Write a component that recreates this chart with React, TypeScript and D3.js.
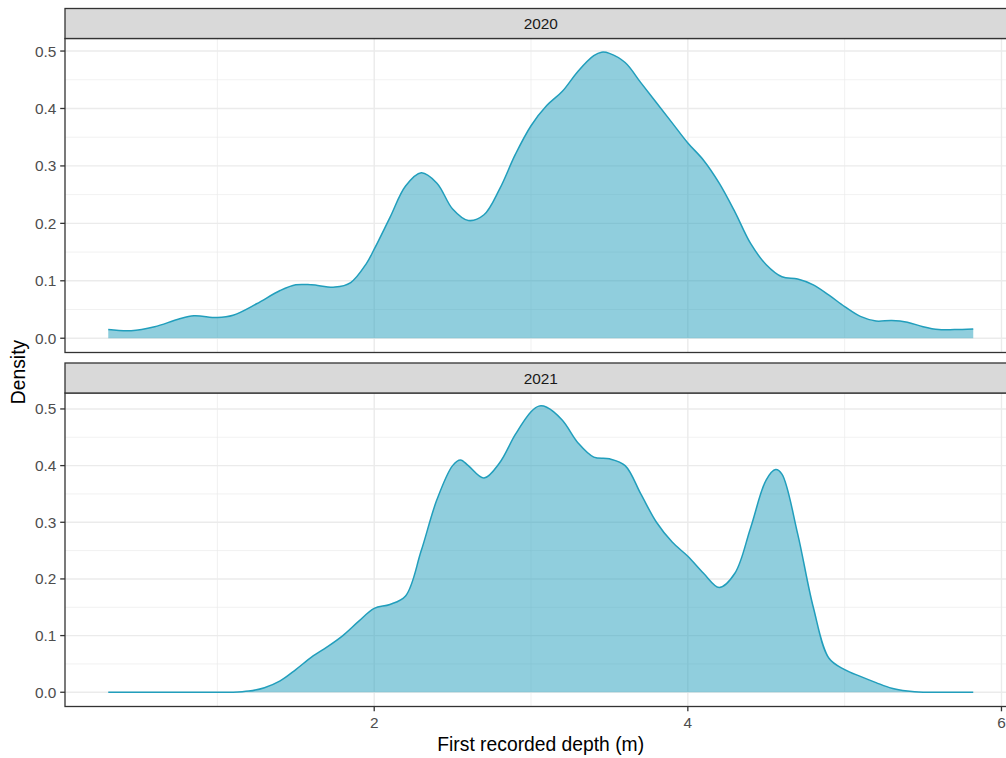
import React from "react";
import * as d3 from "d3";

const xTicks = [2, 4, 6];
const xMinor = [1, 3, 5];
const yTicks = [0, 0.1, 0.2, 0.3, 0.4, 0.5];
const yMinor = [0.05, 0.15, 0.25, 0.35, 0.45];

const depth2020 = [0.304, 0.45, 0.6, 0.75, 0.85, 1.0, 1.1, 1.25, 1.4, 1.5, 1.6, 1.75, 1.85, 1.95, 2.0, 2.1, 2.2, 2.3, 2.4, 2.5, 2.6, 2.7, 2.8, 2.9, 3.0, 3.1, 3.2, 3.3, 3.4, 3.45, 3.5, 3.6, 3.7, 3.8, 3.9, 4.0, 4.1, 4.2, 4.3, 4.4, 4.5, 4.6, 4.7, 4.8, 4.9, 5.0, 5.1, 5.2, 5.3, 5.4, 5.5, 5.6, 5.7, 5.82];
const dens2020 = [0.015, 0.013, 0.02, 0.033, 0.039, 0.036, 0.04, 0.06, 0.083, 0.093, 0.093, 0.089, 0.097, 0.13, 0.155, 0.21, 0.265, 0.288, 0.27, 0.225, 0.205, 0.215, 0.26, 0.32, 0.37, 0.405, 0.43, 0.465, 0.492, 0.498, 0.496, 0.48, 0.445, 0.41, 0.375, 0.34, 0.31, 0.27, 0.22, 0.165, 0.128, 0.107, 0.103, 0.093, 0.075, 0.055, 0.038, 0.03, 0.031, 0.028, 0.02, 0.015, 0.015, 0.016];

const depth2021 = [0.304, 0.6, 0.9, 1.1, 1.2, 1.3, 1.4, 1.5, 1.6, 1.7, 1.8, 1.9, 2.0, 2.1, 2.2, 2.3, 2.4, 2.5, 2.55, 2.6, 2.7, 2.8, 2.9, 3.0, 3.05, 3.1, 3.2, 3.3, 3.4, 3.5, 3.6, 3.7, 3.8, 3.9, 4.0, 4.1, 4.2, 4.3, 4.4, 4.5, 4.56, 4.6, 4.7, 4.8, 4.9, 5.0, 5.1, 5.2, 5.3, 5.4, 5.5, 5.65, 5.82];
const dens2021 = [0, 0, 0, 0, 0.002, 0.008, 0.02, 0.04, 0.062, 0.08, 0.1, 0.125, 0.148, 0.155, 0.17, 0.25, 0.34, 0.4, 0.41, 0.4, 0.378, 0.405, 0.455, 0.495, 0.505, 0.503, 0.48, 0.44, 0.415, 0.412, 0.4, 0.35, 0.3, 0.265, 0.24, 0.21, 0.185, 0.21, 0.29, 0.375, 0.393, 0.385, 0.28, 0.15, 0.06, 0.04, 0.028, 0.017, 0.007, 0.002, 0.0, 0.0, 0.0];

const years = ["2020", "2021"];
const panelsData = [
  { year: years[0], xs: depth2020, ys: dens2020, ymax: 0.497 },
  { year: years[1], xs: depth2021, ys: dens2021, ymax: 0.503 },
];

const COLOR = "#219EBC";
const FONT = "'Liberation Sans', Arial, sans-serif";

export default function App() {
  const W = 1006, H = 758;
  const left = 65;
  const xDataMin = 0.304, xDataMax = 5.82;
  const xpad = (xDataMax - xDataMin) * 0.05;
  const x = d3.scaleLinear().domain([xDataMin - xpad, xDataMax + xpad]).range([left, 1016.5]);
  const panels = [
    { stripTop: 8.5, top: 38.5, bottom: 352.5 },
    { stripTop: 363, top: 393, bottom: 706.5 },
  ];
  const tickLen = 4.8;

  return (
    <svg width={W} height={H} style={{ position: "absolute", left: 0, top: 0, background: "#fff" }} fontFamily={FONT}>
      {panelsData.map((pd, i) => {
        const p = panels[i];
        const ypad = pd.ymax * 0.05;
        const y = d3.scaleLinear().domain([-ypad, pd.ymax + ypad]).range([p.bottom, p.top]);
        const pts = pd.xs.map((v, k) => [v, pd.ys[k]] as [number, number]);
        const area = d3.area<[number, number]>().x(d => x(d[0])).y0(y(0)).y1(d => y(d[1])).curve(d3.curveCatmullRom.alpha(0.5));
        const line = d3.line<[number, number]>().x(d => x(d[0])).y(d => y(d[1])).curve(d3.curveCatmullRom.alpha(0.5));
        const x0 = x.range()[0], x1 = x.range()[1];
        return (
          <g key={pd.year}>
            <rect x={x0} y={p.top} width={x1 - x0} height={p.bottom - p.top} fill="#fff" />
            {yMinor.map(t => (
              <line key={"ym" + t} x1={x0} x2={x1} y1={y(t)} y2={y(t)} stroke="#EBEBEB" strokeWidth={0.7} />
            ))}
            {xMinor.map(t => (
              <line key={"xm" + t} x1={x(t)} x2={x(t)} y1={p.top} y2={p.bottom} stroke="#EBEBEB" strokeWidth={0.7} />
            ))}
            {yTicks.map(t => (
              <line key={"yM" + t} x1={x0} x2={x1} y1={y(t)} y2={y(t)} stroke="#EBEBEB" strokeWidth={1.4} />
            ))}
            {xTicks.map(t => (
              <line key={"xM" + t} x1={x(t)} x2={x(t)} y1={p.top} y2={p.bottom} stroke="#EBEBEB" strokeWidth={1.4} />
            ))}
            <path d={area(pts) || ""} fill={COLOR} fillOpacity={0.5} />
            <path d={line(pts) || ""} fill="none" stroke={COLOR} strokeWidth={1.5} />
            <rect x={x0} y={p.top} width={x1 - x0} height={p.bottom - p.top} fill="none" stroke="#333333" strokeWidth={1.3} />
            <rect x={x0} y={p.stripTop} width={x1 - x0} height={p.top - p.stripTop} fill="#D9D9D9" stroke="#333333" strokeWidth={1.3} />
            <text x={(x0 + x1) / 2} y={(p.stripTop + p.top) / 2} dy="0.36em" textAnchor="middle" fontSize={15.4} fill="#1A1A1A">{pd.year}</text>
            {yTicks.map(t => (
              <g key={"yt" + t}>
                <line x1={x0 - tickLen} x2={x0} y1={y(t)} y2={y(t)} stroke="#333333" strokeWidth={1.3} />
                <text x={x0 - tickLen - 3.9} y={y(t)} dy="0.36em" textAnchor="end" fontSize={15.4} fill="#4D4D4D">{t.toFixed(1)}</text>
              </g>
            ))}
            {i === 1 && xTicks.map(t => (
              <g key={"xt" + t}>
                <line x1={x(t)} x2={x(t)} y1={p.bottom} y2={p.bottom + tickLen} stroke="#333333" strokeWidth={1.3} />
                <text x={x(t)} y={p.bottom + 21.2} textAnchor="middle" fontSize={15.4} fill="#4D4D4D">{t}</text>
              </g>
            ))}
          </g>
        );
      })}
      <text x={540.7} y={751} textAnchor="middle" fontSize={19.3} fill="#000">First recorded depth (m)</text>
      <text transform={`translate(18,372) rotate(-90)`} dy="0.36em" textAnchor="middle" fontSize={19.3} fill="#000">Density</text>
    </svg>
  );
}
